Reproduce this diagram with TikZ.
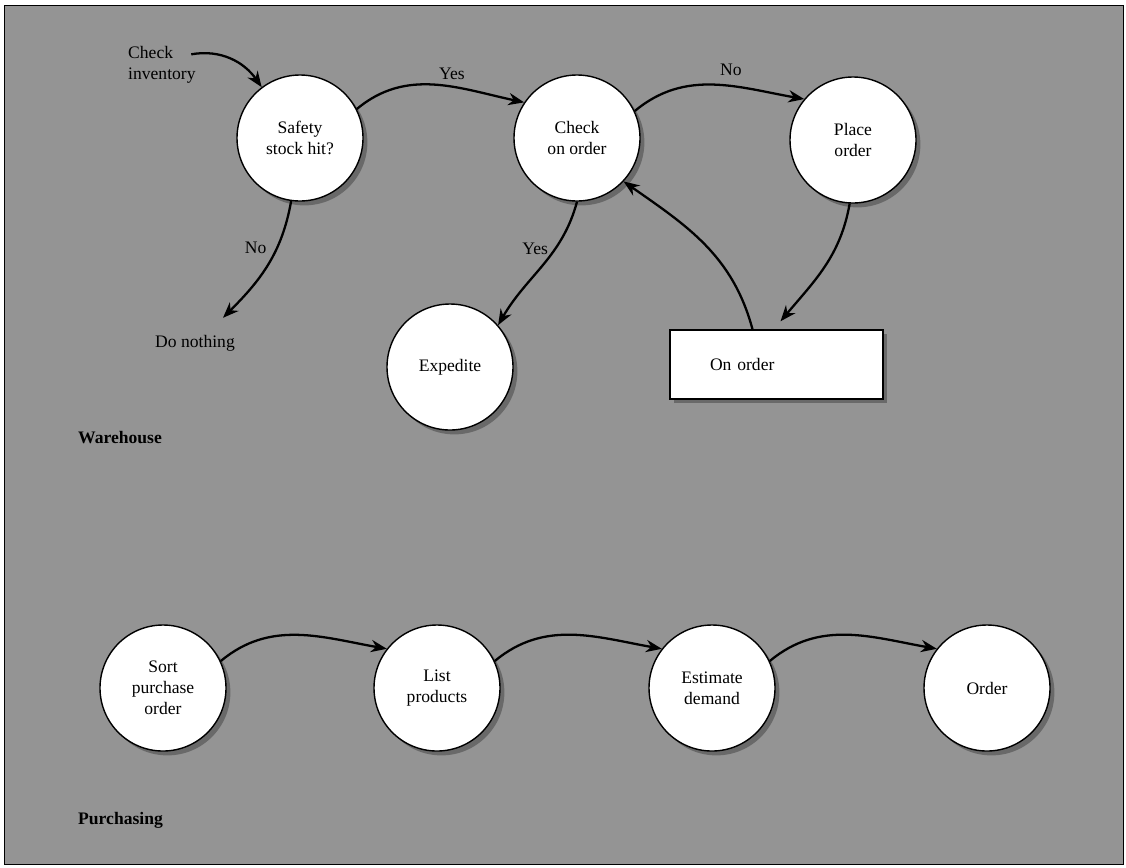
\documentclass[tikz,border=0pt]{standalone}
\usepackage{fontspec}
\setmainfont{Liberation Serif}
\usetikzlibrary{arrows.meta,shadows}

\begin{document}
\begin{tikzpicture}[
    proc/.style={circle, draw, thick, fill=white, minimum size=2.52cm, align=center,
        drop shadow={shadow xshift=2.5pt, shadow yshift=-2.5pt, fill=black!75}},
    store/.style={rectangle, draw, thick, fill=white, minimum height=1.38cm,
        text width=2.66cm, inner xsep=0.8cm, align=left,
        drop shadow={shadow xshift=2.5pt, shadow yshift=-2.5pt, fill=black!75}},
    flow/.style={-{Stealth[length=9pt, width=7pt]}, line width=1.3pt},
    dept/.style={anchor=west, font=\bfseries}
]
    \useasboundingbox (0,0) rectangle (22.52,-17.34);
    \draw[fill=black!42] (0.08,-0.1) rectangle (22.46,-17.28);

    % Warehouse
    \node[anchor=west, align=left] (inv) at (2.44,-1.30) {Check\\inventory};
    \node[proc] (safety) at (6.00,-2.76) {Safety\\stock hit?};
    \node[proc] (check) at (11.54,-2.76) {Check\\on order};
    \node[proc] (place) at (17.06,-2.80) {Place\\order};
    \node[proc] (expedite) at (9.00,-7.34) {Expedite};
    \node[store] (onorder) at (15.53,-7.29) {On order};
    \node (nothing) at (3.90,-6.86) {Do nothing};
    \node[dept] (warehouse) at (1.44,-8.76) {Warehouse};

    \draw[flow] ([xshift=-6pt, yshift=-8pt]inv.north east) to[out=10, in=125] (safety.127);
    \draw[flow] (safety.27) to[out=40, in=168] node[above, pos=0.6] (yes1) {Yes} (check.146);
    \draw[flow] (check.25) to[out=40, in=170] node[above, pos=0.6, yshift=2pt] (no1) {No} (place.140);
    \draw[flow] (safety.-98) to[out=-100, in=45] node[left, pos=0.35, xshift=-2pt] (no2) {No}
        ([xshift=-0.36cm, yshift=0.22cm]nothing.north east);
    \draw[flow] (check.-90) to[out=-105, in=60] node[left, pos=0.35] (yes2) {Yes} (expedite.41);
    \draw[flow] (place.-93) to[out=-100, in=50] ([xshift=0.08cm, yshift=0.16cm]onorder.north);
    \draw[flow] ([xshift=-0.48cm]onorder.north) to[out=105, in=-35] (check.-43);

    % Purchasing
    \node[proc] (sort) at (3.26,-13.76) {Sort\\purchase\\order};
    \node[proc] (list) at (8.74,-13.76) {List\\products};
    \node[proc] (estimate) at (14.24,-13.76) {Estimate\\demand};
    \node[proc] (order) at (19.74,-13.76) {Order};
    \node[dept] (purchasing) at (1.44,-16.40) {Purchasing};

    \draw[flow] (sort.25) to[out=40, in=170] (list.142);
    \draw[flow] (list.25) to[out=40, in=170] (estimate.142);
    \draw[flow] (estimate.25) to[out=40, in=170] (order.142);
\end{tikzpicture}
\end{document}
